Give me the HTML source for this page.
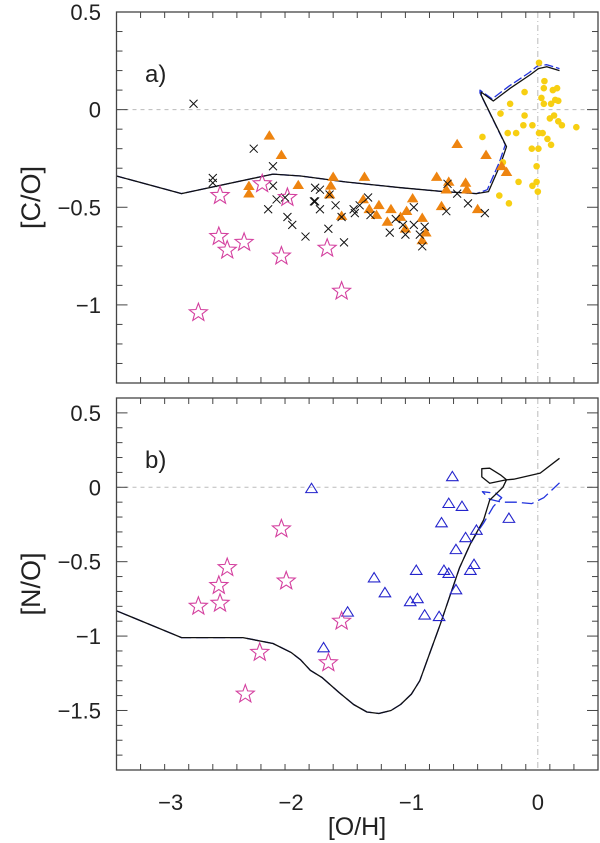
<!DOCTYPE html>
<html><head><meta charset="utf-8">
<style>
html,body{margin:0;padding:0;background:#fff;}
svg{display:block;font-family:"Liberation Sans",sans-serif;}
</style></head>
<body>
<svg id="chart" width="600" height="843" viewBox="0 0 600 843"></svg>
<script>
// ---- data ----
const modelCO_x = [-3.5,-2.96,-2.2,-1.97,-1.6,-1.14,-0.78,-0.51,-0.41,-0.31,-0.26,-0.47,-0.47,-0.37,-0.23,-0.06,0.005,0.075,0.18];
const modelCO_y = [-0.34,-0.43,-0.33,-0.34,-0.37,-0.40,-0.42,-0.43,-0.42,-0.28,-0.19,0.074,0.09,0.044,0.109,0.18,0.21,0.22,0.20];
const modelCOb_x = [-3.5,-2.96,-2.2,-1.97,-1.6,-1.14,-0.78,-0.51,-0.42,-0.32,-0.27,-0.48,-0.48,-0.38,-0.24,-0.07,0.0,0.075,0.18];
const modelCOb_y = [-0.34,-0.43,-0.33,-0.34,-0.37,-0.40,-0.42,-0.43,-0.41,-0.27,-0.18,0.085,0.10,0.055,0.12,0.19,0.225,0.23,0.21];

const modelNO_x = [-3.5,-2.96,-2.45,-2.2,-2.05,-1.97,-1.89,-1.79,-1.65,-1.53,-1.42,-1.32,-1.22,-1.14,-1.05,-0.98,-0.90,-0.81,-0.73,-0.65,-0.56,-0.45,-0.40,-0.29,-0.26,-0.40,-0.465,-0.465,-0.40,-0.31,-0.26,-0.20,0.02,0.18];
const modelNO_y = [-0.83,-1.01,-1.01,-1.05,-1.11,-1.16,-1.23,-1.28,-1.38,-1.46,-1.51,-1.52,-1.50,-1.46,-1.39,-1.30,-1.12,-0.92,-0.73,-0.54,-0.38,-0.22,-0.086,0.0,0.05,0.027,0.07,0.125,0.128,0.083,0.05,0.054,0.095,0.195];
const modelNOb_x = [-3.5,-2.96,-2.45,-2.2,-2.05,-1.97,-1.89,-1.79,-1.65,-1.53,-1.42,-1.32,-1.22,-1.14,-1.05,-0.98,-0.90,-0.81,-0.73,-0.65,-0.56,-0.50,-0.45,-0.37,-0.30,-0.35,-0.46,-0.40,-0.30,-0.18,-0.05,0.05,0.18];
const modelNOb_y = [-0.83,-1.01,-1.01,-1.05,-1.11,-1.16,-1.23,-1.28,-1.38,-1.46,-1.51,-1.52,-1.50,-1.46,-1.39,-1.30,-1.12,-0.92,-0.73,-0.54,-0.38,-0.30,-0.24,-0.13,-0.07,-0.04,-0.03,-0.08,-0.10,-0.10,-0.11,-0.07,0.03];

const starsA_x = [-2.64,-2.65,-2.58,-2.44,-2.82,-2.29,-2.13,-2.08,-1.75,-1.63];
const starsA_y = [-0.44,-0.65,-0.72,-0.68,-1.04,-0.38,-0.75,-0.45,-0.71,-0.93];
const crossA_x = [-2.86,-2.36,-2.20,-2.70,-2.70,-2.20,-2.24,-2.17,-2.10,-2.08,-2.04,-1.93,-1.85,-1.85,-1.81,-1.86,-1.81,-1.68,-1.73,-1.41,-1.48,-1.53,-1.52,-1.39,-1.63,-1.74,-1.61,-1.18,-1.23,-1.12,-1.10,-1.03,-1.03,-0.94,-0.98,-0.96,-0.75,-0.67,-0.76,-0.58,-0.44];
const crossA_y = [0.03,-0.20,-0.29,-0.35,-0.375,-0.39,-0.51,-0.46,-0.45,-0.55,-0.59,-0.65,-0.40,-0.47,-0.41,-0.47,-0.51,-0.49,-0.435,-0.45,-0.49,-0.51,-0.53,-0.54,-0.55,-0.61,-0.68,-0.56,-0.63,-0.59,-0.64,-0.59,-0.50,-0.60,-0.64,-0.70,-0.38,-0.43,-0.52,-0.48,-0.53];
const triA_x = [-2.23,-2.13,-1.99,-2.40,-2.40,-1.70,-1.72,-1.73,-1.44,-1.45,-1.40,-1.32,-1.34,-1.22,-1.25,-1.14,-1.09,-1.04,-0.96,-0.93,-0.96,-1.10,-1.63,-0.84,-0.80,-0.76,-0.74,-0.67,-0.43,-0.60,-0.59,-0.50,-0.30,-0.26];
const triA_y = [-0.134,-0.233,-0.387,-0.392,-0.43,-0.345,-0.39,-0.435,-0.345,-0.46,-0.51,-0.49,-0.54,-0.51,-0.575,-0.55,-0.52,-0.455,-0.555,-0.63,-0.67,-0.61,-0.545,-0.345,-0.495,-0.41,-0.37,-0.177,-0.233,-0.375,-0.41,-0.51,-0.29,-0.32];
const dotA_x = [0.01,0.055,0.05,0.125,0.16,0.03,0.05,0.11,0.145,0.17,-0.11,-0.23,-0.31,-0.11,0.10,0.135,0.17,0.20,0.32,-0.12,-0.045,-0.46,-0.25,-0.18,0.01,0.04,0.08,0.11,-0.05,0.005,-0.29,-0.01,-0.16,-0.01,-0.045,0.00,-0.32,-0.24];
const dotA_y = [0.24,0.146,0.11,0.10,0.11,0.06,0.03,0.03,0.05,0.045,0.09,0.03,-0.02,-0.03,-0.045,-0.03,-0.06,-0.08,-0.09,-0.08,-0.08,-0.14,-0.12,-0.12,-0.12,-0.12,-0.15,-0.18,-0.20,-0.20,-0.27,-0.29,-0.37,-0.37,-0.39,-0.42,-0.44,-0.48];

const starsB_x = [-2.13,-2.09,-2.58,-2.65,-2.64,-2.82,-2.31,-2.43,-1.63,-1.74];
const starsB_y = [-0.28,-0.63,-0.54,-0.66,-0.78,-0.80,-1.11,-1.39,-0.90,-1.18];
const triB_x = [-1.88,-0.71,-0.74,-0.63,-0.80,-0.51,-0.60,-0.68,-0.24,-0.53,-0.56,-1.01,-0.78,-0.74,-1.36,-1.27,-0.68,-1.00,-1.06,-0.94,-0.82,-1.58,-1.78];
const triB_y = [-0.01,0.07,-0.11,-0.13,-0.24,-0.29,-0.34,-0.42,-0.21,-0.52,-0.56,-0.56,-0.56,-0.58,-0.61,-0.71,-0.69,-0.75,-0.77,-0.86,-0.87,-0.84,-1.08];

const xTicks = [-3,-2,-1,0];
const xTickLabels = ["\u22123","\u22122","\u22121","0"];
const yTicksA = [0.5,0,-0.5,-1];
const yTickLabelsA = ["0.5","0","\u22120.5","\u22121"];
const yTicksB = [0.5,0,-0.5,-1,-1.5];
const yTickLabelsB = ["0.5","0","\u22120.5","\u22121","\u22121.5"];

// ---- layout ----
const NS = "http://www.w3.org/2000/svg";
const svg = document.getElementById('chart');
const X0 = 116.5, X1 = 598, XMIN = -3.5, XMAX = 0.5;
const sx = v => X0 + (v - XMIN) / (XMAX - XMIN) * (X1 - X0);
const panels = {
  a: {top: 12, bottom: 383, ymin: -1.4, ymax: 0.5},
  b: {top: 398, bottom: 770, ymin: -1.9, ymax: 0.6}
};
function syF(p){ return v => p.top + (p.ymax - v) / (p.ymax - p.ymin) * (p.bottom - p.top); }
function el(tag, attrs, parent){
  const e = document.createElementNS(NS, tag);
  for (const k in attrs) e.setAttribute(k, attrs[k]);
  (parent || svg).appendChild(e);
  return e;
}
function group(name){
  const g = el('g', {});
  
  
  return g;
}

function drawPanel(key, yt, ytl, title, label){
  const p = panels[key], sy = syF(p);
  const g = group('panel-' + key);
  const h = el('line', {x1:X0, x2:X1, y1:sy(0), y2:sy(0), stroke:'#bbb', 'stroke-width':1, 'stroke-dasharray':'4,4'}, g);
  
  
  const v = el('line', {x1:sx(0), x2:sx(0), y1:p.top, y2:p.bottom, stroke:'#bbb', 'stroke-width':1, 'stroke-dasharray':'6,3,1,3'}, g);
  
  
  const tg = group('ticks-' + key);
  for (let i = 0; i <= 20; i++) {
    const xv = XMIN + i * 0.2, x = sx(xv);
    const major = Math.abs(xv - Math.round(xv)) < 1e-6;
    const L = major ? 11 : 6;
    el('line', {x1:x, x2:x, y1:p.bottom, y2:p.bottom - L, stroke:'#444', 'stroke-width':1}, tg);
    el('line', {x1:x, x2:x, y1:p.top, y2:p.top + L, stroke:'#444', 'stroke-width':1}, tg);
  }
  for (let yv = Math.ceil(p.ymin * 10); yv <= Math.floor(p.ymax * 10); yv++) {
    const y = sy(yv / 10), major = yv % 5 === 0, L = major ? 11 : 6;
    el('line', {x1:X0, x2:X0 + L, y1:y, y2:y, stroke:'#444', 'stroke-width':1}, tg);
    el('line', {x1:X1, x2:X1 - L, y1:y, y2:y, stroke:'#444', 'stroke-width':1}, tg);
  }
  yt.forEach((t, i) => {
    const tx = el('text', {x:101, y:sy(t) + 8, 'text-anchor':'end', 'font-size':22, fill:'#222'}, g);
    tx.textContent = ytl[i];
    
    
  });
  const cy = (p.top + p.bottom) / 2;
  const yt2 = el('text', {x:0, y:0, 'text-anchor':'middle', 'font-size':27, fill:'#222', transform:`translate(40,${cy}) rotate(-90)`}, g);
  yt2.textContent = title;
  
  
  const lb = el('text', {x:145, y:p.top + 70, 'font-size':24, fill:'#222'}, g);
  lb.textContent = label;
  
  
  return {g, sy};
}

function line(g, xs, ys, sy, color, dash, name){
  const d = xs.map((x, i) => (i ? 'L' : 'M') + sx(x).toFixed(1) + ',' + sy(ys[i]).toFixed(1)).join('');
  const pth = el('path', {d, fill:'none', stroke:color, 'stroke-width':1.3, 'stroke-linejoin':'round'}, g);
  if (dash) pth.setAttribute('stroke-dasharray', dash);
  
  
}
function star(g, x, y, r, name){
  let pts = [];
  for (let k = 0; k < 10; k++) {
    const a = -Math.PI / 2 + k * Math.PI / 5, rr = k % 2 ? r * 0.42 : r;
    pts.push((x + rr * Math.cos(a)).toFixed(1) + ',' + (y + rr * Math.sin(a)).toFixed(1));
  }
  const s = el('polygon', {points:pts.join(' '), fill:'none', stroke:'#d4409f', 'stroke-width':1.1}, g);
  
  
}
function tri(g, x, y, r, fill, stroke, name){
  const s = el('polygon', {points:`${x},${y - r} ${x - r * 1.05},${y + r * 0.7} ${x + r * 1.05},${y + r * 0.7}`, fill, stroke, 'stroke-width':1.1}, g);
  
  
}
function cross(g, x, y, r, name){
  const s = el('path', {d:`M${x - r},${y - r}L${x + r},${y + r}M${x - r},${y + r}L${x + r},${y - r}`, stroke:'#111', 'stroke-width':1}, g);
  
  
}

const A = drawPanel('a', yTicksA, yTickLabelsA, '[C/O]', 'a)');
line(A.g, modelCOb_x, modelCOb_y, A.sy, '#2233dd', '9,3', 'model-co-dashed');
line(A.g, modelCO_x, modelCO_y, A.sy, '#111', null, 'model-co-solid');
dotA_x.forEach((x, i) => {
  const c = el('circle', {cx:sx(x), cy:A.sy(dotA_y[i]), r:3.3, fill:'#f7cf12'}, A.g);
  
  
});
triA_x.forEach((x, i) => tri(A.g, sx(x), A.sy(triA_y[i]), 5.5, '#ee8410', 'none', 'triangle-co'));
crossA_x.forEach((x, i) => cross(A.g, sx(x), A.sy(crossA_y[i]), 4, 'cross-co'));
starsA_x.forEach((x, i) => star(A.g, sx(x), A.sy(starsA_y[i]), 9.5, 'star-co'));

const B = drawPanel('b', yTicksB, yTickLabelsB, '[N/O]', 'b)');
line(B.g, modelNOb_x, modelNOb_y, B.sy, '#2233dd', '12,5', 'model-no-dashed');
line(B.g, modelNO_x, modelNO_y, B.sy, '#111', null, 'model-no-solid');
triB_x.forEach((x, i) => tri(B.g, sx(x), B.sy(triB_y[i]), 5.5, 'none', '#2424cc', 'triangle-no'));
starsB_x.forEach((x, i) => star(B.g, sx(x), B.sy(starsB_y[i]), 9.5, 'star-no'));

['a', 'b'].forEach(k => {
  const p = panels[k];
  const r = el('rect', {x:X0, y:p.top, width:X1 - X0, height:p.bottom - p.top, fill:'none', stroke:'#444', 'stroke-width':1.3});
  
  
});
xTicks.forEach((t, i) => {
  const tx = el('text', {x:sx(t) - (t < 0 ? 6 : 0), y:810, 'text-anchor':'middle', 'font-size':22, fill:'#222'});
  tx.textContent = xTickLabels[i];
  
  
});
const xt = el('text', {x:357, y:835, 'text-anchor':'middle', 'font-size':25, fill:'#222'});
xt.textContent = '[O/H]';


</script>
</body></html>
